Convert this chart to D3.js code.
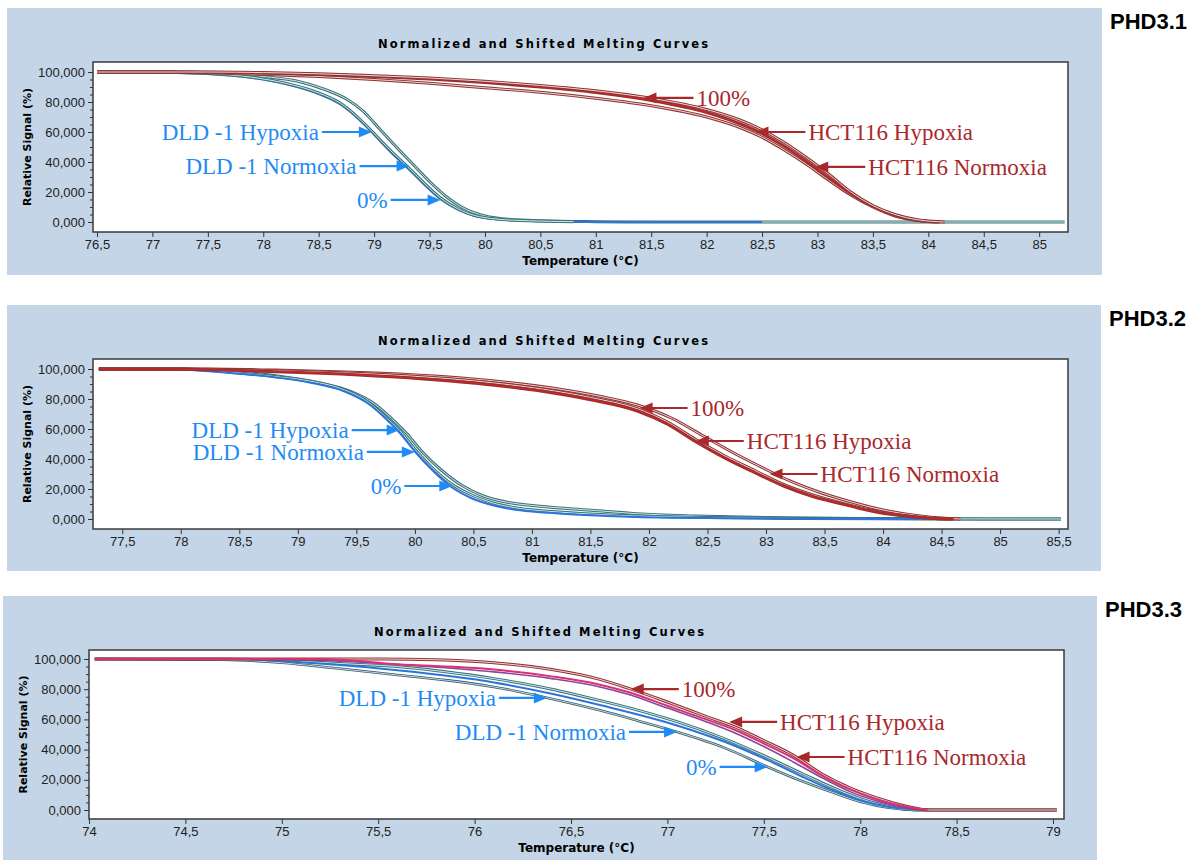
<!DOCTYPE html>
<html>
<head>
<meta charset="utf-8">
<script src="https://cdn.jsdelivr.net/npm/d3@7"></script>
<style>
  body { margin: 0; background: #fff; }
  svg { display: block; }
</style>
</head>
<body>
<div id="chart"></div>
<script>
// ---- data (temperature in °C, relative signal in %) ----

// PHD3.1
var p1XTicks = [76.5, 77, 77.5, 78, 78.5, 79, 79.5, 80, 80.5, 81, 81.5, 82, 82.5, 83, 83.5, 84, 84.5, 85];
var p1DldA = [[76.5,100],[77.2,100],[77.6,99.2],[78.0,97],[78.3,94],[78.55,88.5],[78.75,82],[78.9,74],[79.05,62],[79.2,50],[79.35,38.5],[79.5,27],[79.65,17],[79.8,9.5],[79.95,5],[80.15,2.2],[80.5,0.8],[81,0.2],[81.5,0],[85.23,0]];
var p1DldB = [[76.5,100],[77.1,99.8],[77.5,99],[77.9,96.5],[78.2,92.5],[78.5,86],[78.7,79],[78.85,70],[79.0,59],[79.15,47.5],[79.3,37],[79.45,26],[79.6,16],[79.75,9],[79.9,4.5],[80.1,2],[80.4,0.8],[80.8,0.2]];
var p1DldC = [[76.5,100],[77.0,99.7],[77.5,98.6],[77.9,96],[78.2,92],[78.5,85.3],[78.7,78.2],[78.85,69.2],[79.0,58.2],[79.15,46.5],[79.3,36],[79.45,25],[79.6,15.2],[79.75,8.4],[79.9,4.2],[80.1,1.8],[80.4,0.6],[80.8,0.1],[82.5,0]];
var p1HctA = [[76.5,100],[77.5,100],[78,99.6],[78.5,98.8],[79,97.5],[79.5,96],[80,93.8],[80.5,91],[81,87.5],[81.5,82.5],[82,75],[82.3,68],[82.5,61.5],[82.7,53],[82.9,43],[83.1,32],[83.3,20],[83.5,11],[83.7,5],[83.9,1.5],[84.15,0]];
var p1HctB = [[76.5,100],[77.3,100],[77.8,99.5],[78.5,98.3],[79,97],[79.5,95.3],[80,93],[80.5,90],[81,86.3],[81.5,81],[82,73],[82.3,65.5],[82.5,59],[82.7,50.5],[82.9,40.5],[83.1,29.5],[83.3,19],[83.5,10.5],[83.7,4.5],[83.9,1.2],[84.1,0]];
var p1HctC = [[76.5,100],[77.2,99.8],[77.8,98.8],[78.5,97],[79,95],[79.5,92.5],[80,89.5],[80.5,86.5],[81,82.5],[81.5,77.5],[82,70],[82.3,63],[82.5,56.5],[82.7,48],[82.9,38.5],[83.1,28],[83.3,18],[83.5,10],[83.7,4],[83.9,1],[84.1,0]];
var p1DldNotes = [["DLD -1 Hypoxia", 78.98, 60], ["DLD -1 Normoxia", 79.32, 37.3], ["0%", 79.6, 14.7]];
var p1HctNotes = [["100%", 81.43, 82.7], ["HCT116 Hypoxia", 82.44, 60], ["HCT116 Normoxia", 82.98, 36.7]];

// PHD3.2
var p2XTicks = [77.5, 78, 78.5, 79, 79.5, 80, 80.5, 81, 81.5, 82, 82.5, 83, 83.5, 84, 84.5, 85, 85.5];
var p2DldA = [[77.3,100],[78.0,100],[78.5,98],[78.9,94.5],[79.2,90.5],[79.45,85],[79.65,77],[79.8,67],[79.93,57],[80.06,45],[80.22,33],[80.4,22.5],[80.58,15.5],[80.8,11],[81.0,9],[81.3,7],[81.6,5.3],[81.9,3.5],[82.4,2],[83,1],[84,0.3],[85.52,0]];
var p2DldB = [[77.3,100],[78.0,100],[78.4,98],[78.8,95],[79.1,92],[79.4,86],[79.6,78],[79.75,68],[79.87,59],[80.0,46.5],[80.15,34],[80.32,23],[80.5,15.5],[80.7,10],[80.9,7],[81.2,4.8],[81.5,3.3],[81.9,2],[82.5,1],[83.2,0.4],[84,0.1],[85.52,0]];
var p2DldC = [[77.3,100],[77.9,99.8],[78.4,97.5],[78.8,94.5],[79.1,91],[79.4,85],[79.6,77],[79.75,67],[79.87,57.5],[80.0,45],[80.15,32.5],[80.3,22],[80.48,14],[80.7,8.5],[80.9,5.8],[81.2,3.8],[81.5,2.5],[81.9,1.3],[82.5,0.6],[83.3,0.2],[84.5,0]];
var p2HctA = [[77.3,100],[78.2,100],[78.8,99.3],[79.4,98],[79.9,96.5],[80.4,94],[80.8,91],[81.2,87],[81.6,81.5],[81.9,76],[82.2,67],[82.45,56],[82.7,45],[82.95,35],[83.2,25.5],[83.45,18],[83.7,12],[84.0,6],[84.3,2.2],[84.5,0.6],[84.66,0]];
var p2HctB = [[77.3,100],[78.0,100],[78.6,99.3],[79.2,98],[79.8,96],[80.3,93.5],[80.7,90.5],[81.1,86.5],[81.5,81],[81.9,73.5],[82.15,65],[82.4,53],[82.65,42],[82.9,32.5],[83.15,23],[83.4,16],[83.65,10.5],[83.95,5],[84.25,1.7],[84.45,0.4],[84.6,0]];
var p2HctC = [[77.3,100],[78.0,99.8],[78.6,98.8],[79.2,97.2],[79.8,94.8],[80.3,92],[80.7,89],[81.1,85],[81.5,79.5],[81.9,72],[82.15,63.5],[82.4,51.5],[82.65,40.5],[82.9,31],[83.15,22],[83.4,15],[83.65,10],[83.95,4.5],[84.25,1.5],[84.45,0.3],[84.6,0]];
var p2DldNotes = [["DLD -1 Hypoxia", 79.87, 59.3], ["DLD -1 Normoxia", 80.0, 44.7], ["0%", 80.32, 22]];
var p2HctNotes = [["100%", 81.92, 74], ["HCT116 Hypoxia", 82.4, 52], ["HCT116 Normoxia", 83.03, 30]];

// PHD3.3
var p3XTicks = [74, 74.5, 75, 75.5, 76, 76.5, 77, 77.5, 78, 78.5, 79];
var p3DldA = [[74.03,100],[74.7,100],[75.0,99],[75.3,97],[75.6,95],[75.85,91.5],[76.1,87],[76.4,80],[76.65,72.5],[76.85,66],[77.05,58.5],[77.3,47],[77.5,36],[77.7,24],[77.9,12.5],[78.05,5.5],[78.2,1.2],[78.3,0],[79.02,0]];
var p3DldB = [[74.03,100],[74.7,99.5],[75.0,97.5],[75.27,94],[75.6,89.4],[75.85,86],[76.1,81.5],[76.38,74.2],[76.65,66],[76.85,59],[77.05,51.7],[77.3,41],[77.52,28.5],[77.7,19],[77.86,11.5],[78.0,5.5],[78.15,1.5],[78.3,0],[79.02,0]];
var p3DldC = [[74.03,100],[74.75,100],[75.0,98.7],[75.3,96],[75.6,92.5],[76.1,84.5],[76.4,77],[76.65,69.5],[77.05,56],[77.3,45],[77.52,33],[77.7,22],[77.86,13],[78.0,6.5],[78.15,2],[78.3,0.3],[78.4,0]];
var p3HctA = [[74.03,100],[75.5,100],[75.8,99.5],[76.1,97.5],[76.4,93],[76.65,86.5],[76.8,80.5],[77.0,71.5],[77.2,62],[77.35,55],[77.5,46],[77.65,36.5],[77.8,24],[77.95,14.5],[78.1,7.5],[78.25,2.2],[78.36,0],[79.02,0]];
var p3HctB = [[74.03,100],[75.2,100],[75.6,96.5],[76.1,93],[76.4,88.5],[76.65,83],[76.8,78],[77.0,69],[77.2,60],[77.35,53],[77.5,44],[77.65,34.5],[77.8,23],[77.95,13.5],[78.1,6.5],[78.25,2],[78.35,0]];
var p3HctC = [[74.03,100],[74.9,100],[75.3,98.5],[75.7,95.5],[76.1,91.5],[76.4,87],[76.65,81.5],[76.8,76.5],[77.0,67.5],[77.2,58.5],[77.35,51],[77.5,42],[77.65,32],[77.8,21.5],[77.95,12],[78.1,5.5],[78.25,1.2],[78.35,0]];
var p3DldNotes = [["DLD -1 Hypoxia", 76.375, 74.2], ["DLD -1 Normoxia", 77.05, 51.7], ["0%", 77.52, 28.5]];
var p3HctNotes = [["100%", 76.81, 80.1], ["HCT116 Hypoxia", 77.32, 58.3], ["HCT116 Normoxia", 77.67, 35.1]];

var yTicks = [0, 20, 40, 60, 80, 100];
var yMinorTicks = [5, 10, 15, 25, 30, 35, 45, 50, 55, 65, 70, 75, 85, 90, 95];

// ---- styles ----
var bgColor = "#c3d5e6";
var dldText = "#1f8bf5";
var hctText = "#a8282c";
var lineStyles = {
    dld:      {outer: "#3e7278", inner: "#c9ecec", w: 3},
    dldDark:  {outer: "#3b5c68", inner: "#d5ecef", w: 2.6},
    dldBlue:  {outer: "#2a74dd", inner: null, w: 2},
    hct:      {outer: "#8e3434", inner: "#f2d2d2", w: 3},
    hctRed:   {outer: "#8e3434", inner: "#e41c1c", w: 3},
    hctPink:  {outer: "#dc2f78", inner: null, w: 2},
    hctPurple:{outer: "#86489a", inner: null, w: 1.6}
};

var panels = [
    {bg: [7, 8, 1102, 275], plot: [93, 62, 1068, 232], xDom: [76.464, 85.26], yDom: [-6.67, 106.67],
     name: "PHD3.1", xTicks: p1XTicks, arrowLen: 50,
     lines: [[p1DldA, "dld"], [p1DldC, "dldBlue"], [p1DldB, "dld"], [p1HctC, "hct"], [p1HctB, "hctRed"], [p1HctA, "hct"]],
     dldNotes: p1DldNotes, hctNotes: p1HctNotes},
    {bg: [7, 305, 1101, 571], plot: [93, 359, 1068, 529], xDom: [77.25, 85.58], yDom: [-6.67, 106.67],
     name: "PHD3.2", xTicks: p2XTicks, arrowLen: 48,
     lines: [[p2DldA, "dld"], [p2DldB, "dld"], [p2DldC, "dldBlue"], [p2HctA, "hct"], [p2HctB, "hct"], [p2HctC, "hctRed"]],
     dldNotes: p2DldNotes, hctNotes: p2HctNotes},
    {bg: [3, 596, 1097, 860], plot: [89, 650, 1064, 819], xDom: [74, 79.057], yDom: [-5.96, 105.96],
     name: "PHD3.3", xTicks: p3XTicks, arrowLen: 48,
     lines: [[p3DldA, "dld"], [p3DldB, "dldDark"], [p3DldC, "dldBlue"], [p3HctC, "hctPurple"], [p3HctA, "hct"], [p3HctB, "hctPink"]],
     dldNotes: p3DldNotes, hctNotes: p3HctNotes}
];

function fmtX(t) { return Number.isInteger(t) ? String(t) : t.toFixed(1).replace(".", ","); }
function fmtY(v) { return v.toFixed(3).replace(".", ","); }

function drawPanel(svg, p) {
    var px0 = p.plot[0], py0 = p.plot[1], px1 = p.plot[2], py1 = p.plot[3];
    var x = d3.scaleLinear().domain(p.xDom).range([px0, px1]);
    var y = d3.scaleLinear().domain(p.yDom).range([py1, py0]);
    var g = svg.append("g");

    g.append("rect")
        .attr("x", p.bg[0]).attr("y", p.bg[1])
        .attr("width", p.bg[2] - p.bg[0]).attr("height", p.bg[3] - p.bg[1])
        .attr("fill", bgColor);

    g.append("rect")
        .attr("x", px0).attr("y", py0)
        .attr("width", px1 - px0).attr("height", py1 - py0)
        .attr("fill", "#fff");

    // title
    g.append("text")
        .attr("x", px0 + 450).attr("y", py0 - 18).attr("dy", "0.35em")
        .attr("text-anchor", "middle")
        .attr("font-family", "DejaVu Sans, Arial, sans-serif")
        .attr("font-weight", "bold").attr("font-size", 11.5)
        .attr("textLength", 330).attr("lengthAdjust", "spacing")
        .text("Normalized and Shifted Melting Curves");

    // panel name
    svg.append("text")
        .attr("x", p.bg[2] + 8).attr("y", p.bg[1] + 13).attr("dy", "0.35em")
        .attr("font-family", "Liberation Sans, Arial, sans-serif")
        .attr("font-weight", "bold").attr("font-size", 22)
        .text(p.name);

    // axes
    var yMinor = g.append("g").attr("transform", "translate(" + px0 + ",0)")
        .call(d3.axisLeft(y).tickValues(yMinorTicks).tickSize(3).tickFormat(""));
    var yAxis = g.append("g").attr("transform", "translate(" + px0 + ",0)")
        .call(d3.axisLeft(y).tickValues(yTicks).tickSize(5).tickPadding(3).tickFormat(fmtY));
    var xAxis = g.append("g").attr("transform", "translate(0," + py1 + ")")
        .call(d3.axisBottom(x).tickValues(p.xTicks).tickSize(5).tickPadding(3).tickFormat(fmtX));
    [yMinor, yAxis, xAxis].forEach(function(a) {
        a.select(".domain").remove();
        a.selectAll("line").attr("stroke", "#333");
        a.selectAll("text")
            .attr("font-family", "Liberation Sans, Arial, sans-serif")
            .attr("font-size", 13).attr("fill", "#222");
    });

    g.append("text")
        .attr("transform", "translate(" + (px0 - 66) + "," + ((py0 + py1) / 2) + ") rotate(-90)")
        .attr("text-anchor", "middle").attr("dy", "0.35em")
        .attr("font-family", "DejaVu Sans, Arial, sans-serif")
        .attr("font-weight", "bold").attr("font-size", 11)
        .text("Relative Signal (%)");

    g.append("text")
        .attr("x", (px0 + px1) / 2).attr("y", py1 + 29).attr("dy", "0.35em")
        .attr("text-anchor", "middle")
        .attr("font-family", "DejaVu Sans, Arial, sans-serif")
        .attr("font-weight", "bold").attr("font-size", 12)
        .text("Temperature (°C)");

    // melting curves
    var line = d3.line()
        .x(function(d) { return x(d[0]); })
        .y(function(d) { return y(d[1]); })
        .curve(d3.curveMonotoneX);

    p.lines.forEach(function(l) {
        var s = lineStyles[l[1]];
        g.append("path").datum(l[0])
            .attr("d", line).attr("fill", "none")
            .attr("stroke", s.outer).attr("stroke-width", s.w)
            .attr("stroke-linejoin", "round");
        if (s.inner) {
            g.append("path").datum(l[0])
                .attr("d", line).attr("fill", "none")
                .attr("stroke", s.inner).attr("stroke-width", s.w / 3);
        }
    });

    g.append("rect")
        .attr("x", px0).attr("y", py0)
        .attr("width", px1 - px0).attr("height", py1 - py0)
        .attr("fill", "none").attr("stroke", "#3a3a3a").attr("stroke-width", 1.5);

    // annotations: DLD arrows point right, HCT arrows point left
    function notes(list, dir, color) {
        list.forEach(function(n) {
            var tx = x(n[1]), ty = y(n[2]);
            var tail = tx + dir * p.arrowLen;
            g.append("line")
                .attr("x1", tail).attr("y1", ty)
                .attr("x2", tx + dir * 10).attr("y2", ty)
                .attr("stroke", color).attr("stroke-width", 2.2);
            g.append("path")
                .attr("d", "M" + tx + "," + ty + "L" + (tx + dir * 13) + "," + (ty - 5.5) +
                           "L" + (tx + dir * 13) + "," + (ty + 5.5) + "Z")
                .attr("fill", color);
            g.append("text")
                .attr("x", tail + dir * 3).attr("y", ty).attr("dy", "0.33em")
                .attr("text-anchor", dir < 0 ? "end" : "start")
                .attr("font-family", "Liberation Serif, Times New Roman, serif")
                .attr("font-size", 23).attr("fill", color)
                .text(n[0]);
        });
    }
    notes(p.dldNotes, -1, dldText);
    notes(p.hctNotes, 1, hctText);
}

var svg = d3.select("#chart").append("svg")
    .attr("width", 1201).attr("height", 860);

panels.forEach(function(p) { drawPanel(svg, p); });
</script>
</body>
</html>
